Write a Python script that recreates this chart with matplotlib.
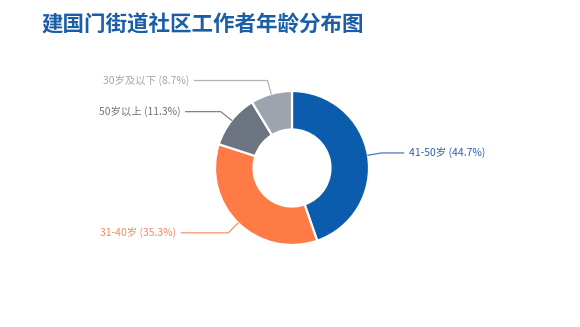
import matplotlib
matplotlib.use("Agg")
import matplotlib.pyplot as plt
import numpy as np

plt.rcParams['font.family'] = ['Noto Sans CJK SC', 'DejaVu Sans']

title = "建国门街道社区工作者年龄分布图"
categories = ["41-50岁", "31-40岁", "50岁以上", "30岁及以下"]
values = [44.7, 35.3, 11.3, 8.7]
colors = ["#0b5cad", "#ff7b45", "#6b7480", "#9ea4ae"]
label_colors = ["#2b63a8", "#f58a5c", "#6f747c", "#a3a6ab"]
line_colors = ["#4a7ab5", "#f5936a", "#7d828a", "#b0b3b8"]

W, H = 580, 327
fig = plt.figure(figsize=(W / 100, H / 100), dpi=100)
ax = fig.add_axes([0, 0, 1, 1])

cx, cy, R = 292, H - 168, 77
wedges, _ = ax.pie(values, colors=colors, startangle=90, counterclock=False,
                   center=(cx, cy), radius=R, frame=True,
                   wedgeprops=dict(width=R * 0.5, edgecolor='white', linewidth=1.6))
ax.set_xlim(0, W)
ax.set_ylim(0, H)
ax.set_aspect('equal')
ax.axis('off')

# horizontal line length (pixels) per label
hlen = [22, 47, 35, 73]
for i, w in enumerate(wedges):
    ang = np.deg2rad((w.theta1 + w.theta2) / 2)
    x0, y0 = cx + R * np.cos(ang), cy + R * np.sin(ang)
    r1 = R * 1.18
    x1, y1 = cx + r1 * np.cos(ang), cy + r1 * np.sin(ang)
    side = 1 if np.cos(ang) > 0 else -1
    x2 = x1 + side * hlen[i]
    ax.plot([x0, x1, x2], [y0, y1, y1], color=line_colors[i], lw=0.9)
    ax.text(x2 + side * 5, y1, f"{categories[i]} ({values[i]}%)",
            ha='left' if side > 0 else 'right', va='center',
            fontsize=7.5, color=label_colors[i])

fig.text(42 / W, 1 - 25 / H, title, fontsize=15.5, fontweight='bold',
         color='#1a5ea8', ha='left', va='center')

fig.savefig("out.png", dpi=100, facecolor='white')
